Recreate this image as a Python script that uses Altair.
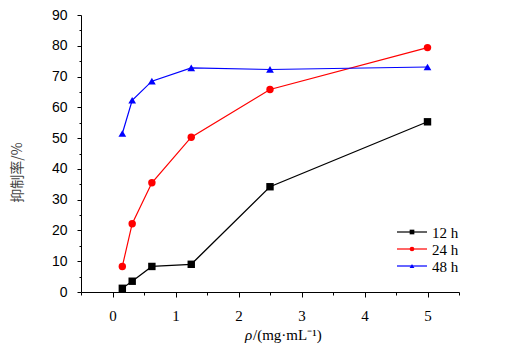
import altair as alt
import pandas as pd

conc = [0.156, 0.3125, 0.625, 1.25, 2.5, 5]
series = ["12 h", "24 h", "48 h"]
h12 = [1.2, 3.5, 8.3, 9.0, 34.2, 55.3]
h24 = [8.3, 22.2, 35.5, 50.3, 65.8, 79.4]
h48 = [51.5, 62.3, 68.5, 72.8, 72.3, 73.1]
colors = ["#000000", "#ff0000", "#0000ff"]
shapes = ["square", "circle", "triangle-up"]
sizes = [55, 55, 60]

x_ticks = [v / 2 for v in range(-1, 12)]
y_ticks = list(range(0, 95, 5))

rows = []
for s, vals in zip(series, [h12, h24, h48]):
    for c, v in zip(conc, vals):
        rows.append({"conc": c, "rate": v, "series": s})
df = pd.DataFrame(rows)

xscale = alt.Scale(domain=[-0.5, 5.5], nice=False, zero=False)
yscale = alt.Scale(domain=[0, 90], nice=False)

xaxis = alt.Axis(
    values=x_ticks,
    labelExpr="datum.value % 1 === 0 ? format(datum.value, 'd') : ''",
    grid=False, title=None, labelOverlap=False,
    domainColor="black", tickColor="black",
    tickSize={"condition": {"test": "datum.value % 1 !== 0", "value": 3}, "value": 5},
    labelFont="Liberation Serif", labelFontSize=15, labelColor="black",
    labelPadding=11, labelFlush=False,
)
yaxis = alt.Axis(
    values=y_ticks,
    labelExpr="datum.value % 10 === 0 ? datum.label : ''",
    grid=False, title="抑制率/%", labelOverlap=False,
    domainColor="black", tickColor="black",
    tickSize={"condition": {"test": "datum.value % 10 !== 0", "value": 2}, "value": 4},
    labelFont="Liberation Sans", labelFontSize=14, labelColor="black",
    labelPadding=10,
    titleFont="Noto Sans CJK SC", titleFontSize=14, titleFontWeight="normal",
    titleColor="#444444", titleX=-64, titleY=157, titleAngle=-90,
    titleAlign="center", titleBaseline="middle",
)

layers = []
for i, s in enumerate(series):
    sub = df[df.series == s]
    base = alt.Chart(sub).encode(
        x=alt.X("conc:Q", scale=xscale, axis=xaxis),
        y=alt.Y("rate:Q", scale=yscale, axis=yaxis),
    )
    line = base.mark_line(color=colors[i], strokeWidth=1.2)
    pts = base.mark_point(
        shape=shapes[i], filled=True, color=colors[i], size=sizes[i], opacity=1
    )
    layers += [line, pts]

# legend
leg_y = [217, 234, 251]
for i, s in enumerate(series):
    ldf = pd.DataFrame({"series": [s]})
    lb = alt.Chart(ldf)
    layers.append(lb.mark_rule(color=colors[i], strokeWidth=1.2).encode(
        x=alt.value(316), x2=alt.value(346), y=alt.value(leg_y[i])))
    layers.append(lb.mark_point(shape=shapes[i], filled=True, color=colors[i],
                                size=22, opacity=1).encode(
        x=alt.value(331), y=alt.value(leg_y[i])))
    layers.append(lb.mark_text(align="left", baseline="middle", font="Liberation Serif",
                               fontSize=15, color="black").encode(
        x=alt.value(351), y=alt.value(leg_y[i] + 1), text="series:N"))

# x title
tdf = pd.DataFrame({"a": ["ρ"], "b": ["/(mg·mL⁻¹)"]})
tb = alt.Chart(tdf)
layers.append(tb.mark_text(align="left", baseline="alphabetic", font="Liberation Serif",
                           fontSize=15, fontStyle="italic", color="black").encode(
    x=alt.value(164), y=alt.value(325), text="a:N"))
layers.append(tb.mark_text(align="left", baseline="alphabetic", font="Liberation Serif",
                           fontSize=15, color="black").encode(
    x=alt.value(172), y=alt.value(325), text="b:N"))

chart = alt.layer(*layers).properties(
    width=378, height=277,
    autosize=alt.AutoSizeParams(type="none"),
    padding={"left": 81, "top": 15, "right": 47, "bottom": 62},
).configure(
    background="white",
    view={"stroke": None},
    axisX={"labelFont": "Liberation Serif"},
    axisY={"labelFont": "Liberation Sans"},
)

chart.save("out.html", embed_options={"renderer": "svg", "actions": False})
